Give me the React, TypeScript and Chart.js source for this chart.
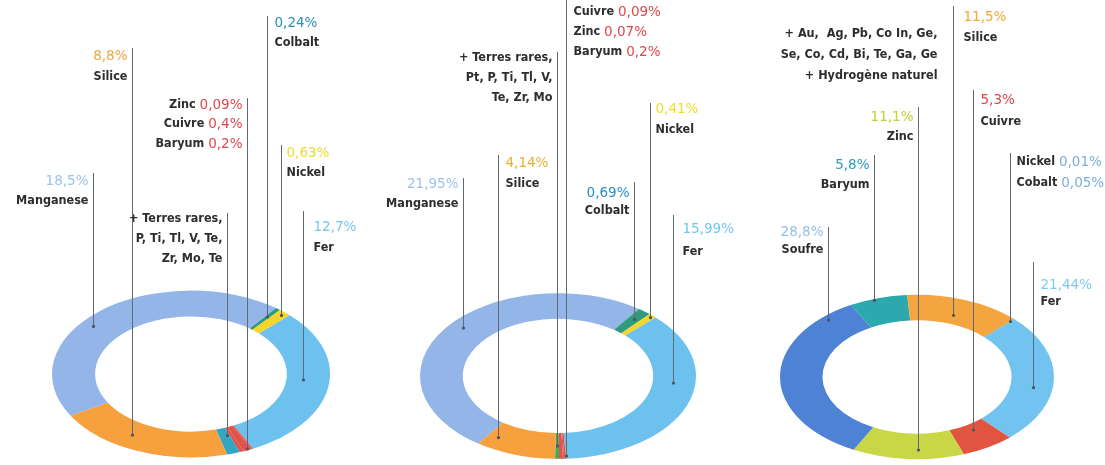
import React, { useEffect, useRef } from "react";
import { Chart, registerables } from "chart.js";

Chart.register(...registerables);

const W = 1105;
const H = 465;
const K = 0.6; // vertical squash of the rings (perspective)
const FONT = '"DejaVu Sans Condensed", "DejaVu Sans", sans-serif';
const PCT_FONT = '"DejaVu Sans", sans-serif';
const NAME_COLOR = "#2d2d2d";
const LINE_COLOR = "#5e6a74";

// ---------- Chart 1 ----------
const c1Labels = ["Manganese", "Colbalt", "Nickel", "Fer", "Zinc", "Cuivre", "Baryum", "Terres rares", "Silice"];
const c1Values = [18.5, 0.24, 0.63, 12.7, 0.09, 0.4, 0.2, 0.65, 8.8];
const c1Colors = ["#93b5e7", "#2f9a7e", "#f3d52b", "#6dc1ef", "#e0534a", "#e0534a", "#e0534a", "#33a6c4", "#f6a03e"];
const c1PctColors = ["#9cc2ee", "#2d8fb0", "#eedc2a", "#72c7f0", "#e0474c", "#e0474c", "#e0474c", "#33a6c4", "#f0a43a"];

// ---------- Chart 2 ----------
const c2Labels = ["Manganese", "Colbalt", "Nickel", "Fer", "Cuivre", "Zinc", "Baryum", "Terres rares", "Silice"];
const c2Values = [21.95, 0.69, 0.41, 15.99, 0.09, 0.07, 0.2, 0.2, 4.14];
const c2Colors = ["#93b5e7", "#2f9a7e", "#f3d52b", "#6dc1ef", "#e0534a", "#e0534a", "#e0534a", "#3cab5a", "#f6a03e"];
const c2PctColors = ["#9cc2ee", "#2a8cc0", "#eedc2a", "#72c7f0", "#e0474c", "#e0474c", "#e0474c", "#3cab5a", "#e8b030"];

// ---------- Chart 3 ----------
const c3Labels = ["Baryum", "Silice", "Nickel", "Cobalt", "Fer", "Cuivre", "Zinc", "Soufre"];
const c3Values = [5.8, 11.5, 0.01, 0.05, 21.44, 5.3, 11.1, 28.8];
const c3Colors = ["#2ba9ae", "#f5a53f", "#f3d52b", "#2f9a7e", "#72c3f0", "#e05440", "#c9d645", "#4e82d4"];
const c3PctColors = ["#2a9bc4", "#f0a830", "#7eaed6", "#7eaed6", "#7ccaf0", "#d9474a", "#c2d22e", "#92bfe8"];

type Tok = { n?: number; p?: number; s?: string; np?: number };
type Callout = {
  seg: number;
  t?: number;
  rf?: number;
  side: "L" | "R";
  top: number;
  ys: number[];
  lines: Tok[];
  dx?: number;
  noLine?: boolean;
};

const c1Callouts: Callout[] = [
  { seg: 1, rf: 0.6, side: "R", top: 16, ys: [23, 43], lines: [{ p: 1 }, { n: 1 }], dx: 7 },
  { seg: 8, t: 0.6, side: "L", top: 48, ys: [56, 77], lines: [{ p: 8 }, { n: 8 }] },
  { seg: 5, rf: 0.95, side: "L", top: 98, ys: [105, 124, 144], lines: [{ np: 4 }, { np: 5 }, { np: 6 }] },
  { seg: 2, rf: 0.85, side: "R", top: 145, ys: [153, 173], lines: [{ p: 2 }, { n: 2 }], dx: 5 },
  { seg: 0, t: 0.437, rf: 0.7, side: "L", top: 173, ys: [181, 201], lines: [{ p: 0 }, { n: 0 }] },
  { seg: 7, t: 0.2, rf: 0.3, side: "L", top: 213, ys: [219, 239, 259], lines: [{ s: "+ Terres rares," }, { s: "P, Ti, Tl, V, Te," }, { s: "Zr, Mo, Te" }] },
  { seg: 3, t: 0.46, rf: 0.38, side: "R", top: 211, ys: [227, 248], lines: [{ p: 3 }, { n: 3 }], dx: 10 },
];

const c2Callouts: Callout[] = [
  { seg: 4, t: 0.2, rf: 0.9, side: "R", top: 0, ys: [12, 32, 52], lines: [{ np: 4 }, { np: 5 }, { np: 6 }], dx: 7 },
  { seg: 7, rf: 0.5, side: "L", top: 52, ys: [58, 78, 98], lines: [{ s: "+ Terres rares," }, { s: "Pt, P, Ti, Tl, V," }, { s: "Te, Zr, Mo" }] },
  { seg: 2, rf: 0.9, side: "R", top: 103, ys: [109, 130], lines: [{ p: 2 }, { n: 2 }], dx: 5 },
  { seg: 8, t: 0.85, rf: 0.55, side: "R", top: 155, ys: [163, 184], lines: [{ p: 8 }, { n: 8 }], dx: 7 },
  { seg: 0, t: 0.525, rf: 0.67, side: "L", top: 178, ys: [184, 204], lines: [{ p: 0 }, { n: 0 }] },
  { seg: 1, rf: 0.6, side: "L", top: 182, ys: [193, 211], lines: [{ p: 1 }, { n: 1 }] },
  { seg: 3, t: 0.386, rf: 0.48, side: "R", top: 215, ys: [229, 252], lines: [{ p: 3 }, { n: 3 }], dx: 9 },
];

const c3Callouts: Callout[] = [
  { seg: 1, t: 0.476, rf: 0.34, side: "R", top: 6, ys: [17, 38], lines: [{ p: 1 }, { n: 1 }], dx: 10 },
  { seg: 1, t: 0.476, rf: 0.34, side: "L", top: 0, ys: [34, 55, 76], lines: [{ s: "+ Au,  Ag, Pb, Co In, Ge," }, { s: "Se, Co, Cd, Bi, Te, Ga, Ge" }, { s: "+ Hydrogène naturel" }], dx: -16, noLine: true },
  { seg: 5, t: 0.45, rf: 0.24, side: "R", top: 90, ys: [100, 122], lines: [{ p: 5 }, { n: 5 }], dx: 7 },
  { seg: 6, t: 0.41, rf: 0.64, side: "L", top: 107, ys: [117, 137], lines: [{ p: 6 }, { n: 6 }] },
  { seg: 3, rf: 0.87, side: "R", top: 153, ys: [162, 183], lines: [{ np: 2 }, { np: 3 }], dx: 6 },
  { seg: 0, t: 0.42, rf: 0.95, side: "L", top: 155, ys: [165, 185], lines: [{ p: 0 }, { n: 0 }] },
  { seg: 7, t: 0.886, rf: 0.83, side: "L", top: 227, ys: [232, 250], lines: [{ p: 7 }, { n: 7 }] },
  { seg: 4, t: 0.58, rf: 0.54, side: "R", top: 262, ys: [285, 302], lines: [{ p: 4 }, { n: 4 }], dx: 7 },
];

type DonutCfg = {
  labels: string[];
  values: number[];
  colors: string[];
  pctColors: string[];
  callouts: Callout[];
  cx: number;
  cy: number;
  r: number;
  rotation: number;
};

const charts: DonutCfg[] = [
  { labels: c1Labels, values: c1Values, colors: c1Colors, pctColors: c1PctColors, callouts: c1Callouts, cx: 191, cy: 374, r: 139, rotation: -120 },
  { labels: c2Labels, values: c2Values, colors: c2Colors, pctColors: c2PctColors, callouts: c2Callouts, cx: 558, cy: 376, r: 138, rotation: -144.7 },
  { labels: c3Labels, values: c3Values, colors: c3Colors, pctColors: c3PctColors, callouts: c3Callouts, cx: 917, cy: 377, r: 137, rotation: -29 },
];

const fmt = (v: number) => String(v).replace(".", ",") + "%";

function Donut({ cfg }: { cfg: DonutCfg }) {
  const ref = useRef<HTMLCanvasElement>(null);
  useEffect(() => {
    const a = 80;
    const squash = {
      id: "squash",
      beforeDatasetsDraw(chart: any) {
        const el: any = chart.getDatasetMeta(0).data[0];
        const ctx = chart.ctx;
        ctx.save();
        ctx.translate(0, el.y);
        ctx.scale(1, K);
        ctx.translate(0, -el.y);
      },
      afterDatasetsDraw(chart: any) {
        chart.ctx.restore();
      },
    };
    const callouts = {
      id: "callouts",
      afterDraw(chart: any) {
        const ctx: CanvasRenderingContext2D = chart.ctx;
        const meta = chart.getDatasetMeta(0);
        const nameFont = `bold 12.5px ${FONT}`;
        const pctFont = `13.5px ${PCT_FONT}`;
        cfg.callouts.forEach((co) => {
          const arc: any = meta.data[co.seg];
          const t = co.t ?? 0.5;
          const rf = co.rf ?? 0.5;
          const ang = arc.startAngle + t * (arc.endAngle - arc.startAngle);
          const rr = arc.innerRadius + rf * (arc.outerRadius - arc.innerRadius);
          const px = arc.x + rr * Math.cos(ang);
          const py = arc.y + rr * Math.sin(ang) * K;
          const lx = Math.round(px) + 0.5;
          if (!co.noLine) {
            ctx.save();
            ctx.strokeStyle = LINE_COLOR;
            ctx.lineWidth = 1;
            ctx.beginPath();
            ctx.moveTo(lx, co.top);
            ctx.lineTo(lx, py);
            ctx.stroke();
            ctx.fillStyle = "#4a5560";
            ctx.beginPath();
            ctx.arc(lx, py, 1.6, 0, Math.PI * 2);
            ctx.fill();
            ctx.restore();
          }
          const dx = co.dx ?? (co.side === "L" ? -5 : 6);
          const tx = lx + dx;
          co.lines.forEach((tok, li) => {
            const parts: { text: string; color: string; font: string }[] = [];
            if (tok.p !== undefined) parts.push({ text: fmt(cfg.values[tok.p]), color: cfg.pctColors[tok.p], font: pctFont });
            if (tok.n !== undefined) parts.push({ text: cfg.labels[tok.n], color: NAME_COLOR, font: nameFont });
            if (tok.s !== undefined) parts.push({ text: tok.s, color: NAME_COLOR, font: nameFont });
            if (tok.np !== undefined) {
              parts.push({ text: cfg.labels[tok.np] + " ", color: NAME_COLOR, font: nameFont });
              parts.push({ text: fmt(cfg.values[tok.np]), color: cfg.pctColors[tok.np], font: pctFont });
            }
            ctx.save();
            ctx.textBaseline = "middle";
            ctx.textAlign = "left";
            let total = 0;
            parts.forEach((p) => {
              ctx.font = p.font;
              total += ctx.measureText(p.text).width;
            });
            let x = co.side === "L" ? tx - total : tx;
            parts.forEach((p) => {
              ctx.font = p.font;
              ctx.fillStyle = p.color;
              ctx.fillText(p.text, x, co.ys[li]);
              x += ctx.measureText(p.text).width;
            });
            ctx.restore();
          });
        });
      },
    };
    const chart = new Chart(ref.current!, {
      type: "doughnut",
      data: {
        labels: cfg.labels,
        datasets: [
          {
            data: cfg.values,
            backgroundColor: cfg.colors,
            borderWidth: 0,
            hoverOffset: 0,
            radius: cfg.r,
          } as any,
        ],
      },
      options: {
        responsive: false,
        animation: false,
        cutout: "69%",
        rotation: cfg.rotation,
        layout: {
          padding: { left: cfg.cx - a, right: W - cfg.cx - a, top: cfg.cy - a, bottom: H - cfg.cy - a },
        },
        plugins: { legend: { display: false }, tooltip: { enabled: false }, title: { display: false } },
        events: [],
      } as any,
      plugins: [squash, callouts],
    });
    return () => chart.destroy();
  }, []);
  return <canvas ref={ref} width={W} height={H} style={{ position: "absolute", left: 0, top: 0, width: W, height: H }} />;
}

export default function App() {
  return (
    <div style={{ position: "fixed", left: 0, top: 0, width: W, height: H, background: "#ffffff", overflow: "hidden" }}>
      {charts.map((c, i) => (
        <Donut key={i} cfg={c} />
      ))}
    </div>
  );
}
